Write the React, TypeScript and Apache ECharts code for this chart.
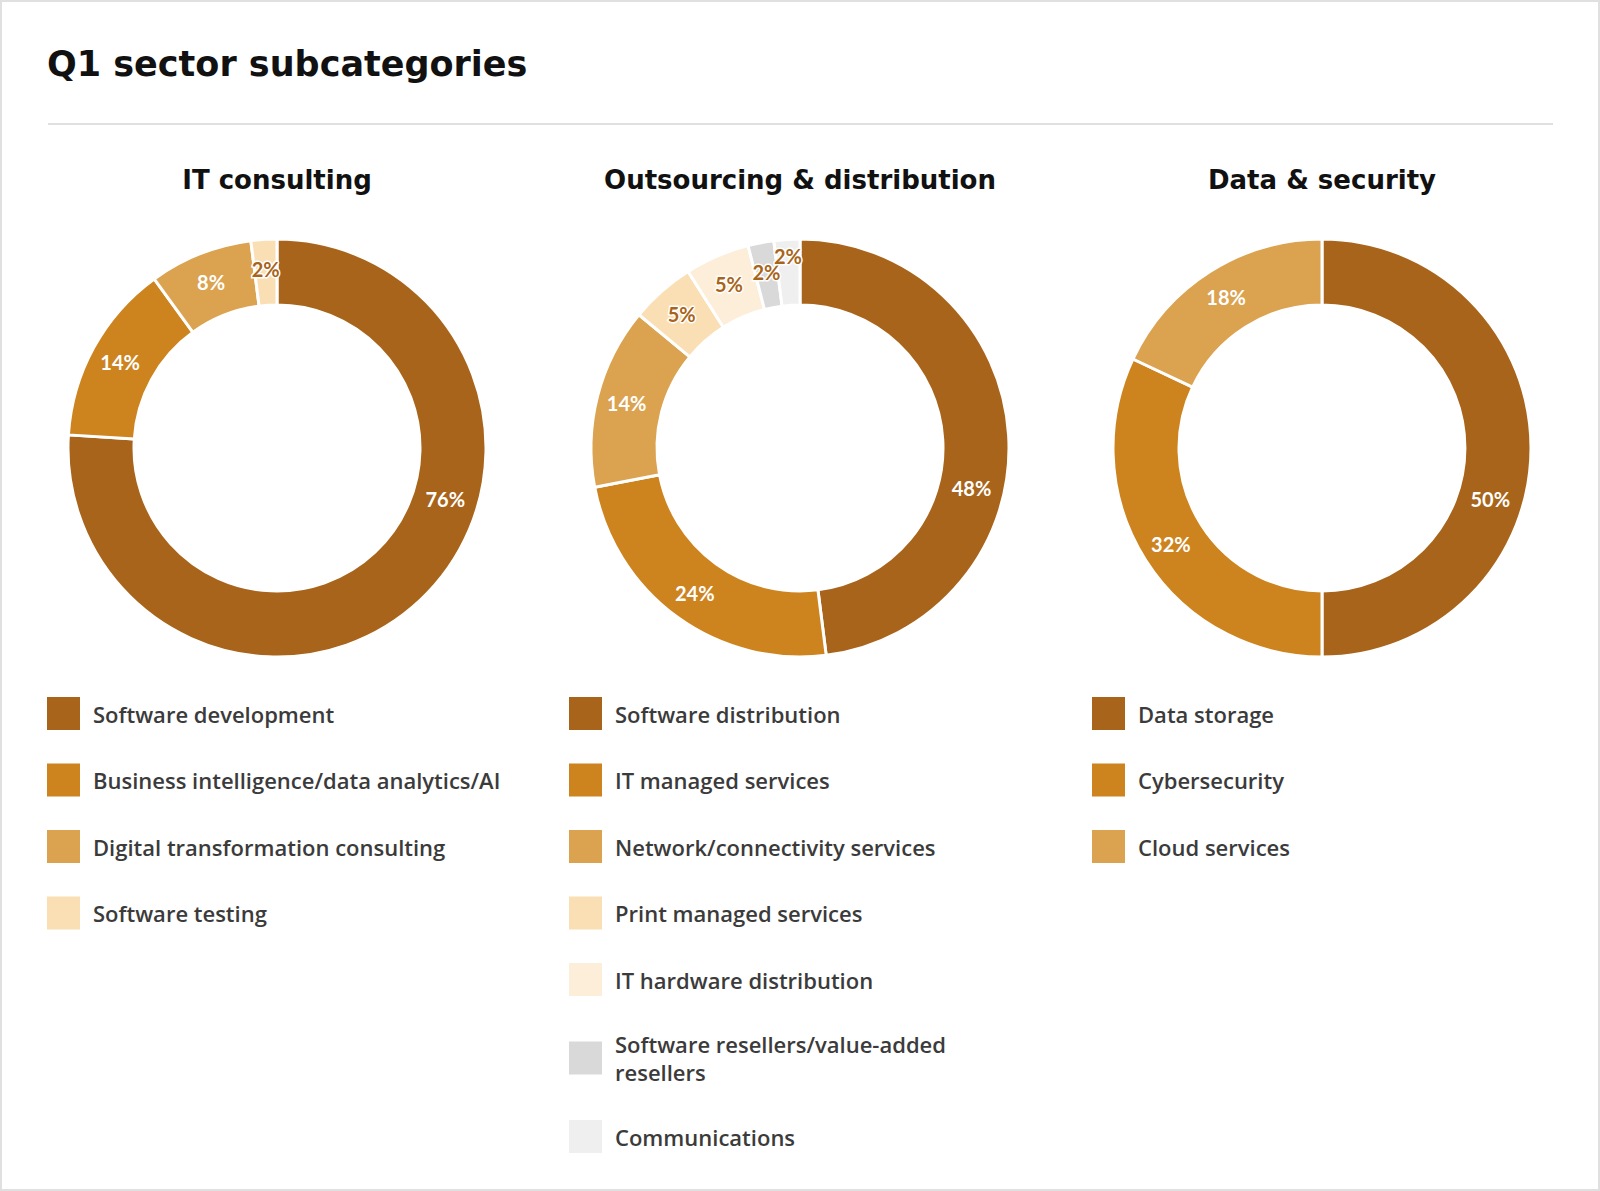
import React, { useEffect, useRef } from 'react';
import * as echarts from 'echarts';

const chartTitle = 'Q1 sector subcategories';
const sectorTitles = ['IT consulting', 'Outsourcing & distribution', 'Data & security'];

const itCategories = [
  'Software development',
  'Business intelligence/data analytics/AI',
  'Digital transformation consulting',
  'Software testing',
];
const itValues = [76, 14, 8, 2];

const outCategories = [
  'Software distribution',
  'IT managed services',
  'Network/connectivity services',
  'Print managed services',
  'IT hardware distribution',
  'Software resellers/value-added resellers',
  'Communications',
];
const outValues = [48, 24, 14, 5, 5, 2, 2];

const dataCategories = ['Data storage', 'Cybersecurity', 'Cloud services'];
const dataValues = [50, 32, 18];

const palette = ['#A8641A', '#CD841F', '#DBA24F', '#FADFB5', '#FDEEDA', '#D9D9D9', '#EFEFEF'];

const W = 1600;
const H = 1191;
const TITLE_FONT = '"DejaVu Sans", Inter, sans-serif';
const LEGEND_FONT = '"Open Sans", Lato, sans-serif';
const LABEL_FONT = 'Lato, "Noto Sans", sans-serif';
const centersX = [277, 800, 1322];
const centerY = 448;
const innerR = 143;
const outerR = 209;
const legendLeft = [47, 569, 1092];
const legendTop = 697;

// label placement tweaks (angle in degrees clockwise from 12 o'clock, radius in px)
const labelTweaks: Record<number, Record<number, { angle?: number; radius?: number }>> = {
  0: { 0: { angle: 107 } },
  1: { 0: { angle: 103 }, 6: { radius: 192 } },
  2: { 0: { angle: 107 } },
};

const wrapNames: Record<string, string> = {
  'Software resellers/value-added resellers': 'Software resellers/value-added\nresellers',
};

export default function App() {
  const ref = useRef<HTMLDivElement>(null);

  useEffect(() => {
    document.body.style.margin = '0';
    if (!ref.current) return;
    const chart = echarts.init(ref.current, undefined, { renderer: 'svg' });

    const groups = [
      { cats: itCategories, vals: itValues },
      { cats: outCategories, vals: outValues },
      { cats: dataCategories, vals: dataValues },
    ];

    const series = groups.map((g, si) => {
      const total = g.vals.reduce((a, b) => a + b, 0);
      const cum: number[] = [];
      let acc = 0;
      g.vals.forEach((v) => {
        cum.push(acc + v / 2);
        acc += v;
      });
      return {
        type: 'pie',
        name: sectorTitles[si],
        center: [centersX[si], centerY],
        radius: [innerR, outerR],
        startAngle: 90,
        clockwise: true,
        avoidLabelOverlap: false,
        emphasis: { scale: false },
        itemStyle: { borderColor: '#ffffff', borderWidth: 3 },
        label: {
          show: true,
          position: 'inside',
          formatter: '{c}%',
          fontSize: 20,
          fontWeight: 'bold',
          fontFamily: LABEL_FONT,
        },
        labelLine: { show: false },
        labelLayout: (params: any) => {
          const t = labelTweaks[si] && labelTweaks[si][params.dataIndex];
          if (!t) return {};
          const ang = t.angle != null ? t.angle : (cum[params.dataIndex] / total) * 360;
          const rad = t.radius != null ? t.radius : (innerR + outerR) / 2;
          const a = (ang * Math.PI) / 180;
          return {
            x: centersX[si] + rad * Math.sin(a),
            y: centerY - rad * Math.cos(a),
            align: 'center',
            verticalAlign: 'middle',
          };
        },
        data: g.vals.map((v, i) => ({
          name: g.cats[i],
          value: v,
          itemStyle: { color: palette[i] },
          label:
            i >= 3
              ? { color: '#A8641A', textBorderColor: '#ffffff', textBorderWidth: 3 }
              : { color: '#ffffff' },
        })),
      };
    });

    const legends = groups.map((g, si) => ({
      data: g.cats,
      orient: 'vertical',
      left: legendLeft[si],
      top: legendTop,
      padding: 0,
      icon: 'rect',
      itemWidth: 33,
      itemHeight: 33,
      itemGap: 33.5,
      selectedMode: false,
      itemStyle: { borderWidth: 0 },
      formatter: (name: string) => wrapNames[name] || name,
      textStyle: {
        fontSize: 22,
        fontWeight: 600,
        color: '#3b3b3b',
        fontFamily: LEGEND_FONT,
        lineHeight: 28.5,
        padding: [0, 0, 0, 8],
      },
    }));

    const graphic: any[] = [
      {
        type: 'rect',
        shape: { x: 1, y: 1, width: W - 2, height: H - 2 },
        style: { fill: 'none', stroke: '#E0E0E0', lineWidth: 2 },
        silent: true,
      },
      {
        type: 'text',
        x: 47,
        y: 64,
        style: {
          text: chartTitle,
          fontSize: 35,
          fontWeight: 'bold',
          fontFamily: TITLE_FONT,
          fill: '#111111',
          align: 'left',
          verticalAlign: 'middle',
        },
      },
      {
        type: 'line',
        shape: { x1: 48, y1: 124, x2: 1553, y2: 124 },
        style: { stroke: '#E0E0E0', lineWidth: 2 },
        silent: true,
      },
      ...sectorTitles.map((t, i) => ({
        type: 'text',
        x: centersX[i],
        y: 180,
        style: {
          text: t,
          fontSize: 26,
          fontWeight: 'bold',
          fontFamily: TITLE_FONT,
          fill: '#111111',
          align: 'center',
          verticalAlign: 'middle',
        },
      })),
    ];

    chart.setOption({
      animation: false,
      backgroundColor: '#ffffff',
      legend: legends,
      series,
      graphic,
    });

    return () => chart.dispose();
  }, []);

  return <div ref={ref} style={{ width: W, height: H }} />;
}
